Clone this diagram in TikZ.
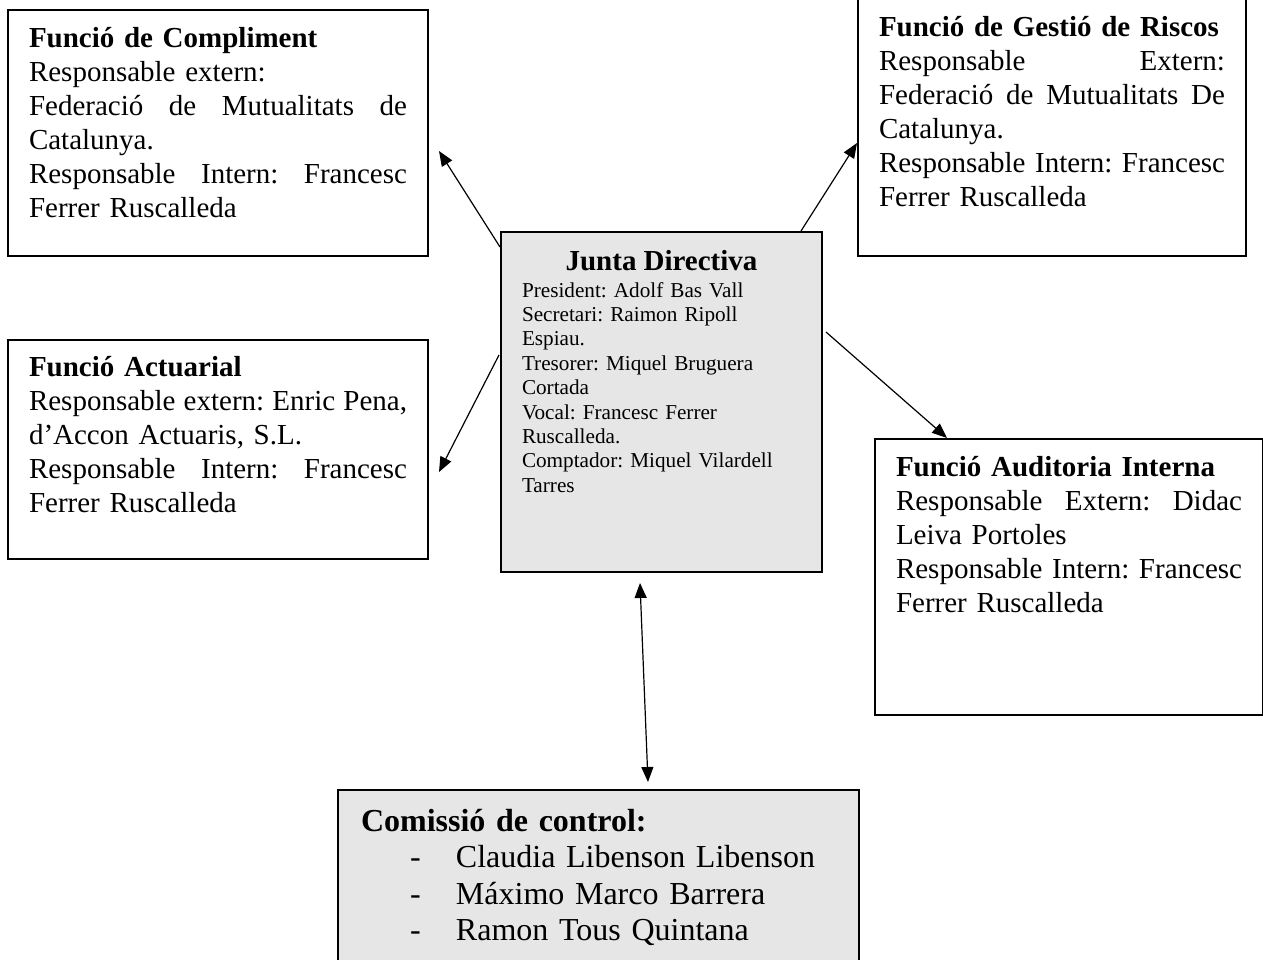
\documentclass[tikz,border=0pt]{standalone}
\usepackage{fontspec}
\setmainfont{Liberation Serif}
\frenchspacing
\usetikzlibrary{arrows.meta,positioning,calc}
\definecolor{boxgray}{RGB}{230,230,230}
\tikzset{
	funcbox/.style={draw,line width=1pt,anchor=north west,align=left,
		inner xsep=10.5pt,inner ysep=0pt,font=\fontsize{14.5}{17}\selectfont},
	juntabox/.style={funcbox,fill=boxgray,font=\fontsize{10.6}{12.2}\selectfont},
	comisbox/.style={funcbox,fill=boxgray,inner xsep=11.5pt,font=\fontsize{16}{18.3}\selectfont},
	arr/.style={line width=0.6pt,-{Triangle[length=7.5pt,width=6pt]}},
	dblarr/.style={line width=0.6pt,{Triangle[length=7.5pt,width=6pt]}-{Triangle[length=7.5pt,width=6pt]}}
}
\newcommand{\member}[1]{\hspace*{24.5pt}\makebox[23pt][l]{-}#1}
\begin{document}
\begin{tikzpicture}[x=0.5pt,y=-0.5pt]
	\useasboundingbox (0,0) rectangle (1263,959);
	% boxes
	\node[funcbox,text width=189pt,text height=18.5pt,text depth=104.5pt] (compl) at (7,9)
		{\textbf{Funció de Compliment}\\
		Responsable extern:\\
		Federació\hfill de\hfill Mutualitats\hfill de\\
		Catalunya.\\
		Responsable\hfill Intern:\hfill Francesc\\
		Ferrer Ruscalleda};
	\node[funcbox,text width=173pt,text height=19pt,text depth=110pt] (gestio) at (857,-3)
		{\textbf{Funció de Gestió de Riscos}\\
		Responsable\hfill Extern:\\
		Federació\hfill de\hfill Mutualitats\hfill De\\
		Catalunya.\\
		Responsable\hfill Intern:\hfill Francesc\\
		Ferrer Ruscalleda};
	\node[funcbox,text width=189pt,text height=18pt,text depth=91.5pt] (actu) at (7,339)
		{\textbf{Funció Actuarial}\\
		Responsable\hfill extern:\hfill Enric\hfill Pena,\\
		d’Accon Actuaris, S.L.\\
		Responsable\hfill Intern:\hfill Francesc\\
		Ferrer Ruscalleda};
	\node[funcbox,text width=173pt,text height=18.5pt,text depth=119.5pt] (audit) at (874,438)
		{\textbf{Funció Auditoria Interna}\\
		Responsable\hfill Extern:\hfill Didac\\
		Leiva Portoles\\
		Responsable\hfill Intern:\hfill Francesc\\
		Ferrer Ruscalleda};
	\node[juntabox,text width=139.5pt,text height=19pt,text depth=151pt] (junta) at (500,231)
		{\makebox[\linewidth]{\fontsize{14.5}{17}\selectfont\bfseries Junta Directiva}\\[1.3pt]
		President: Adolf Bas Vall\\
		Secretari: Raimon Ripoll\\
		Espiau.\\
		Tresorer: Miquel Bruguera\\
		Cortada\\
		Vocal: Francesc Ferrer\\
		Ruscalleda.\\
		Comptador: Miquel Vilardell\\
		Tarres};
	\node[comisbox,text width=237.5pt,text height=20.5pt,text depth=66pt] (comis) at (337,789)
		{\textbf{Comissió de control:}\\
		\member{Claudia Libenson Libenson}\\
		\member{Máximo Marco Barrera}\\
		\member{Ramon Tous Quintana}};
	% connectors
	\draw[arr] ($(junta.north west)+(0,16)$) -- ($(compl.north east)+(10,142)$);
	\draw[arr] ($(junta.north west)+(-1,124)$) -- ($(actu.north east)+(10,133)$);
	\draw[arr] ($(junta.north east)+(-22,0)$) -- ($(gestio.north west)+(0,146)$);
	\draw[arr] ($(junta.north east)+(3,101)$) -- ($(audit.north west)+(73,0)$);
	\draw[dblarr] ($(junta.south)+(-21.5,10)$) -- ($(comis.north west)+(311,-7)$);
\end{tikzpicture}
\end{document}
